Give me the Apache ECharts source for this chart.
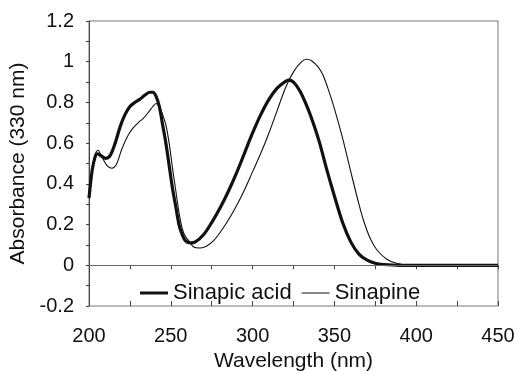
<!DOCTYPE html>
<html>
<head>
<meta charset="utf-8">
<script src="https://cdn.jsdelivr.net/npm/echarts@6/dist/echarts.min.js"></script>
<style>html,body{margin:0;padding:0;background:#fff}#c{width:515px;height:371px}</style>
</head>
<body>
<div id="c"></div>
<script>
const seriesNames = ['Sinapic acid', 'Sinapine'];
const xTickValues = [200, 250, 300, 350, 400, 450];
const yTickValues = [-0.2, 0, 0.2, 0.4, 0.6, 0.8, 1, 1.2];

const acidWl = [200,202,204,205,207,210,213,216,219,222,225,228,231,234,237,239,241,243,245,247,249,251,253,255,257,259,262,265,270,275,280,285,290,295,300,305,310,315,320,322,325,329,333,337,341,345,350,355,360,365,370,375,380,390,400,450];
const acidAbs = [0.33,0.47,0.54,0.548,0.54,0.525,0.54,0.6,0.68,0.74,0.78,0.80,0.815,0.835,0.85,0.85,0.83,0.78,0.69,0.60,0.49,0.38,0.29,0.2,0.15,0.12,0.11,0.115,0.15,0.21,0.28,0.36,0.45,0.55,0.65,0.74,0.815,0.87,0.903,0.91,0.9,0.855,0.785,0.7,0.6,0.48,0.34,0.21,0.115,0.055,0.025,0.01,0.004,0,0,0];

const sinWl = [200,202,204,205.5,208,211,214,217,220,224,227,230,233,236,239,241,243,245,247,249,251,253,255,257,259,261,264,268,272,276,280,285,290,295,300,305,310,315,320,325,330,333,336,340,343,346,350,355,360,365,368,372,376,382,388,396,450];
const sinAbs = [0.33,0.48,0.55,0.565,0.53,0.49,0.477,0.5,0.57,0.64,0.675,0.70,0.72,0.748,0.78,0.795,0.78,0.74,0.69,0.6,0.48,0.37,0.26,0.18,0.14,0.12,0.09,0.085,0.095,0.12,0.16,0.22,0.29,0.37,0.46,0.55,0.65,0.76,0.87,0.95,1.0,1.012,1.005,0.975,0.935,0.87,0.77,0.625,0.46,0.3,0.215,0.13,0.075,0.03,0.01,0,0];

const pair = (xs, ys) => xs.map((x, i) => [x, ys[i]]);

const chart = echarts.init(document.getElementById('c'));
const font = 'Liberation Sans, Arial, sans-serif';
chart.setOption({
  animation: false,
  backgroundColor: '#fff',
  grid: { left: 89, top: 21, width: 409, height: 285, outerBoundsMode: 'none', containLabel: false,
    show: true, borderColor: '#777', borderWidth: 1, backgroundColor: 'transparent' },
  legend: {
    data: [
      { name: seriesNames[0], icon: 'path://M0,0 H28 V3 H0 Z' },
      { name: seriesNames[1], icon: 'path://M0,0 H28 V1 H0 Z' }
    ],
    left: 135, top: 277, itemWidth: 28, itemHeight: 14, itemGap: 10,
    itemStyle: { color: '#111' },
    textStyle: { fontSize: 22, color: '#111', fontFamily: font }
  },
  xAxis: [{
    type: 'value', min: 200, max: 450, interval: 25,
    name: 'Wavelength (nm)', nameLocation: 'middle', nameGap: 44,
    nameTextStyle: { fontSize: 21, color: '#111', fontFamily: font },
    axisLine: { lineStyle: { color: '#444', width: 1 } },
    axisTick: { show: true, length: 4, lineStyle: { color: '#444' } },
    axisLabel: { fontSize: 20, color: '#111', fontFamily: font, margin: 20,
      formatter: v => xTickValues.includes(v) ? String(v) : '' },
    splitLine: { show: false }
  }, {
    type: 'value', min: 200, max: 450, interval: 25, position: 'bottom',
    axisLine: { show: false },
    axisTick: { show: true, inside: true, length: 5, lineStyle: { color: '#444' } },
    axisLabel: { show: false }, splitLine: { show: false }
  }],
  yAxis: {
    type: 'value', min: -0.2, max: 1.2, interval: 0.1,
    name: 'Absorbance (330 nm)', nameLocation: 'middle', nameGap: 48,
    nameTextStyle: { fontSize: 21, color: '#111', fontFamily: font },
    axisLine: { lineStyle: { color: '#444', width: 1 } },
    axisTick: { show: true, length: 3, lineStyle: { color: '#444' } },
    axisLabel: { fontSize: 20, color: '#111', fontFamily: font, margin: 15,
      formatter: v => { const r = Math.round(v * 10) / 10; return yTickValues.some(t => Math.abs(t - r) < 1e-9) ? String(r) : ''; } },
    splitLine: { show: false }
  },
  series: [{
    name: seriesNames[0], type: 'line', data: pair(acidWl, acidAbs), symbol: 'none',
    smooth: 0.3,
    lineStyle: { color: '#111', width: 3.2 }, itemStyle: { color: '#111' },
    markLine: { silent: true, symbol: 'none', label: { show: false },
      lineStyle: { color: '#666', width: 1, type: 'solid' }, data: [{ yAxis: 0 }] },
    z: 3
  }, {
    name: seriesNames[1], type: 'line', data: pair(sinWl, sinAbs), symbol: 'none',
    smooth: 0.3,
    lineStyle: { color: '#111', width: 1.1 }, itemStyle: { color: '#111' }, z: 2
  }]
});
</script>
</body>
</html>
